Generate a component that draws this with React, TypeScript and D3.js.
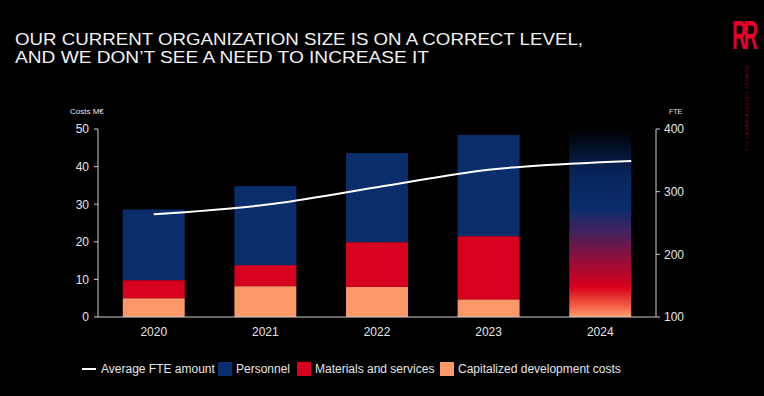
import React from 'react';
import * as d3 from 'd3';

const years = ['2020', '2021', '2022', '2023', '2024'];
const actualYears = ['2020', '2021', '2022', '2023'];
const capitalized = [5.0, 8.2, 8.0, 4.7];
const materials = [4.8, 5.6, 11.9, 16.8];
const personnel = [18.8, 21.0, 23.7, 26.9];
const projection2024 = 50;
const fte = [264, 279, 307, 335, 347];
const fteEnd = 349;
const costTicks = [0, 10, 20, 30, 40, 50];
const fteTicks = [100, 200, 300, 400];
const titleLines = [
  'OUR CURRENT ORGANIZATION SIZE IS ON A CORRECT LEVEL,',
  'AND WE DON\u2019T SEE A NEED TO INCREASE IT',
];
const titleLengths = [568, 414];

const W = 764;
const H = 396;
const FONT = '"Liberation Sans", Arial, Helvetica, sans-serif';
const colors = {
  personnel: '#0a2d6c',
  materials: '#d7001e',
  capitalized: '#fb9868',
  axis: '#d0d0d0',
  text: '#e6e6e6',
};

const margin = { top: 129, right: 108, bottom: 79, left: 98 };
const plotW = W - margin.left - margin.right;
const plotH = H - margin.top - margin.bottom;

const App = () => {
  const x = d3.scaleBand().domain(years).range([0, plotW]).paddingInner(0.445).paddingOuter(0.222);
  const yCost = d3.scaleLinear().domain([0, 50]).range([plotH, 0]);
  const yFte = d3.scaleLinear().domain([100, 400]).range([plotH, 0]);

  const rows = actualYears.map((yr, i) => ({
    year: yr,
    capitalized: capitalized[i],
    materials: materials[i],
    personnel: personnel[i],
  }));
  const keys = ['capitalized', 'materials', 'personnel'];
  const stacked = d3.stack<any>().keys(keys)(rows);

  // FTE line through the year centres, carried on to the edge of the 2024 bar
  const linePts: [number, number][] = years.map((yr, i) => [x(yr)! + x.bandwidth() / 2, yFte(fte[i])]);
  linePts.push([x('2024')! + x.bandwidth(), yFte(fteEnd)]);
  const line = d3.line().curve(d3.curveMonotoneX)(linePts) || '';

  const legend = [
    { type: 'line', label: 'Average FTE amount', x: 82 },
    { type: 'rect', label: 'Personnel', color: colors.personnel, x: 218 },
    { type: 'rect', label: 'Materials and services', color: colors.materials, x: 297 },
    { type: 'rect', label: 'Capitalized development costs', color: colors.capitalized, x: 440 },
  ];

  return (
    <div style={{ position: 'fixed', left: 0, top: 0, width: W, height: H, background: '#000' }}>
      <svg width={W} height={H} style={{ display: 'block', background: '#000' }} fontFamily={FONT}>
        <defs>
          <linearGradient id="proj" x1="0" y1="1" x2="0" y2="0">
            <stop offset="0" stopColor="#ffa06e" />
            <stop offset="0.07" stopColor="#f0543e" />
            <stop offset="0.16" stopColor="#d8001e" />
            <stop offset="0.32" stopColor="#8c0f3c" />
            <stop offset="0.45" stopColor="#44225e" />
            <stop offset="0.58" stopColor="#0a2d6c" />
            <stop offset="0.78" stopColor="#072458" />
            <stop offset="1" stopColor="#000000" />
          </linearGradient>
        </defs>

        {titleLines.map((t, i) => (
          <text
            key={t}
            x={15}
            y={45 + i * 17.8}
            fill="#f2f2f2"
            fontSize={17}
            textLength={titleLengths[i]}
            lengthAdjust="spacingAndGlyphs"
          >
            {t}
          </text>
        ))}

        {/* logo */}
        <g transform="translate(732,49) scale(0.5,1)">
          <text fill="#e4002b" fontSize={40} fontWeight="bold" letterSpacing={-6}>
            RR
          </text>
        </g>
        <text
          transform="translate(745,66) rotate(90)"
          fill="#b0001e"
          fontSize={4}
          letterSpacing={0.6}
          textLength={86}
          lengthAdjust="spacingAndGlyphs"
        >
          REMEDY ENTERTAINMENT PLC
        </text>

        <g transform={`translate(${margin.left},${margin.top})`}>
          {stacked.map((s) => (
            <g key={s.key} fill={(colors as any)[s.key]}>
              {s.map((d) => (
                <rect
                  key={d.data.year}
                  x={x(d.data.year)}
                  y={yCost(d[1])}
                  width={x.bandwidth()}
                  height={yCost(d[0]) - yCost(d[1])}
                />
              ))}
            </g>
          ))}
          <rect
            x={x('2024')}
            y={yCost(projection2024)}
            width={x.bandwidth()}
            height={yCost(0) - yCost(projection2024)}
            fill="url(#proj)"
          />

          <path d={line} fill="none" stroke="#ffffff" strokeWidth={2} />

          {/* left axis */}
          <line x1={0} x2={0} y1={0} y2={plotH} stroke={colors.axis} />
          {costTicks.map((t) => (
            <g key={t} transform={`translate(0,${yCost(t)})`}>
              <line x1={-4} x2={0} stroke={colors.axis} />
              <text x={-9} dy="0.36em" textAnchor="end" fill={colors.text} fontSize={12}>
                {t}
              </text>
            </g>
          ))}
          <text x={-28} y={-15} fill={colors.text} fontSize={8}>
            Costs M€
          </text>

          {/* right axis */}
          <line x1={plotW} x2={plotW} y1={0} y2={plotH} stroke={colors.axis} />
          {fteTicks.map((t) => (
            <g key={t} transform={`translate(${plotW},${yFte(t)})`}>
              <line x1={0} x2={4} stroke={colors.axis} />
              <text x={8} dy="0.36em" fill={colors.text} fontSize={12}>
                {t}
              </text>
            </g>
          ))}
          <text x={plotW + 13} y={-15} fill={colors.text} fontSize={7}>
            FTE
          </text>

          {/* x axis */}
          <line x1={0} x2={plotW} y1={plotH} y2={plotH} stroke={colors.axis} />
          {years.map((yr) => (
            <text
              key={yr}
              x={x(yr)! + x.bandwidth() / 2}
              y={plotH + 19}
              textAnchor="middle"
              fill={colors.text}
              fontSize={12}
            >
              {yr}
            </text>
          ))}
        </g>

        {legend.map((l) => (
          <g key={l.label} transform={`translate(${l.x},369)`}>
            {l.type === 'line' ? (
              <line x1={0} x2={14} stroke="#fff" strokeWidth={2} />
            ) : (
              <rect x={0} y={-7} width={14} height={14} fill={l.color} />
            )}
            <text x={l.type === 'line' ? 19 : 18} dy="0.36em" fill={colors.text} fontSize={12}>
              {l.label}
            </text>
          </g>
        ))}
      </svg>
    </div>
  );
};

export default App;
